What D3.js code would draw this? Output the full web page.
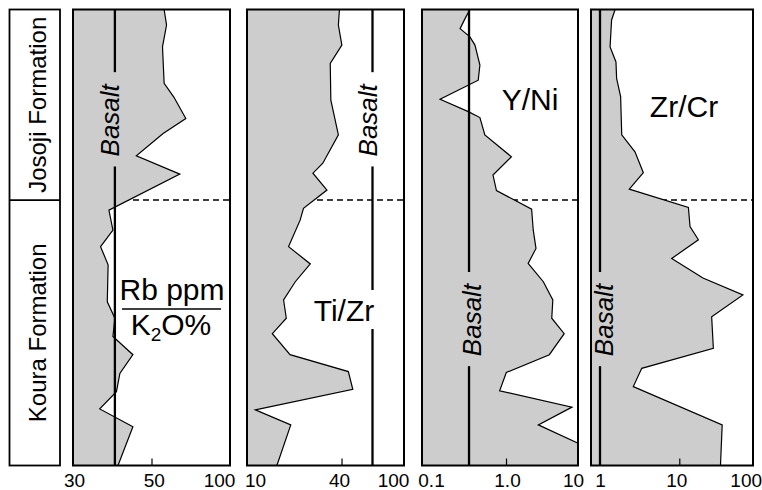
<!DOCTYPE html>
<html lang="en">
<head>
<meta charset="utf-8">
<title>Josoji and Koura Formation geochemistry</title>
<script src="https://d3js.org/d3.v7.min.js"></script>
<style>
  body { margin: 0; background: #fff; }
  text { font-family: "Liberation Sans", Arial, Helvetica, sans-serif; }
</style>
</head>
<body>
<div id="chart"></div>
<script>
var width = 762, height = 490;

// position of each sample in the section, 0 = top, 100 = base
var rbDepth = [0, 3.4, 8.2, 16.2, 19.2, 23.9, 27.2, 32.1, 36.1, 44.0, 48.4, 52.0, 56.0, 64.1, 67.7, 71.7, 75.7, 79.8, 83.8, 87.6, 91.5, 100];
var rbValue = [55.9, 57.1, 55.1, 55.9, 60.9, 67.7, 55.4, 45.3, 64.2, 37.9, 38.9, 35.9, 37.7, 37.5, 39.4, 38.9, 44.3, 40.7, 39.8, 35.7, 44.3, 40.2];

var tiDepth = [0, 3.4, 7.8, 11.8, 19.9, 27.5, 33.7, 35.9, 39.6, 43.6, 46.2, 52.0, 55.8, 59.7, 63.7, 67.7, 71.1, 75.7, 79.4, 83.3, 87.8, 91.1, 100];
var tiValue = [38.8, 38.2, 40.2, 33.9, 34.2, 38.2, 30.4, 26.3, 32.3, 22.9, 21.8, 18.4, 25.3, 20.3, 17.1, 17.8, 14.5, 18.8, 44.2, 47.2, 11.3, 19.0, 15.5];

var yDepth = [0, 2.0, 4.2, 6.0, 7.8, 12.2, 15.5, 19.7, 22.4, 23.7, 27.5, 32.3, 36.3, 39.7, 43.8, 48.4, 52.4, 55.7, 59.7, 63.7, 67.7, 71.1, 75.7, 79.6, 83.6, 87.2, 91.1, 95.0, 100];
var yValue = [0.372, 0.325, 0.284, 0.372, 0.427, 0.489, 0.467, 0.164, 0.356, 0.489, 0.560, 1.19, 0.70, 0.77, 2.27, 2.39, 2.61, 2.03, 3.30, 4.47, 4.32, 6.43, 4.0, 1.01, 0.84, 8.24, 2.81, 9.68, 20];

var zrDepth = [0, 2.3, 8.2, 11.5, 15.1, 19.1, 27.5, 31.2, 35.8, 39.4, 43.4, 47.6, 50.5, 54.6, 58.9, 62.6, 67.4, 74.3, 78.7, 82.7, 91.1, 100];
var zrValue = [1.55, 1.40, 1.34, 1.59, 1.62, 1.82, 1.88, 2.76, 3.52, 2.34, 13.3, 14.0, 18.2, 8.02, 21.0, 73.5, 27.6, 29.1, 3.36, 2.63, 38.4, 36.4];

// basalt reference values
var basaltValues = [39.4, 63, 0.363, 1];

// tick values and labels
var rbTicks = [30, 50, 100],  rbTickLabels = ['30', '50', '100'];
var tiTicks = [10, 40, 100],  tiTickLabels = ['10', '40', '100'];
var yTicks  = [0.1, 1, 10],   yTickLabels  = ['0.1', '1.0', '10'];
var zrTicks = [1, 10, 100],   zrTickLabels = ['1', '10', '100'];

var formations = ['Josoji Formation', 'Koura Formation'];
var boundaryDepth = 41.8;

var yTop = 9.5, yBottom = 465.5;

var svg = d3.select('#chart').append('svg')
  .attr('width', width)
  .attr('height', height);

var y = d3.scaleLinear().domain([0, 100]).range([yTop, yBottom]);

// panel layout
var panels = [
  { id: 'rb', x0: 73, x1: 230, domain: rbTicks, range: [73, 151.5, 230],
    depth: rbDepth, value: rbValue, ticks: rbTicks, labels: rbTickLabels, shift: [1, 2.3, -11],
    basalt: basaltValues[0], basaltDepth: 24.3, basaltDx: 4.3 },
  { id: 'ti', x0: 247, x1: 404, domain: [10, 100], range: [247, 404],
    depth: tiDepth, value: tiValue, ticks: tiTicks, labels: tiTickLabels, shift: [8, -2.5, -11],
    basalt: basaltValues[1], basaltDepth: 24.3, basaltDx: 4.6,
    title: 'Ti/Zr', tx: 344, ty: 321 },
  { id: 'yni', x0: 422, x1: 578, domain: yTicks, range: [422, 506, 578],
    depth: yDepth, value: yValue, ticks: yTicks, labels: yTickLabels, shift: [9, 1, -5],
    basalt: basaltValues[2], basaltDepth: 68.1, basaltDx: 12,
    title: 'Y/Ni', tx: 530, ty: 110 },
  { id: 'zr', x0: 591, x1: 753, domain: zrTicks, range: [600, 679.3, 752.7],
    depth: zrDepth, value: zrValue, ticks: zrTicks, labels: zrTickLabels, shift: [0, -3, -7],
    basalt: basaltValues[3], basaltDepth: 68.1, basaltDx: 13,
    title: 'Zr/Cr', tx: 684, ty: 117 }
];

// formation column on the left
var col = svg.append('g');
col.append('rect')
  .attr('x', 9.5).attr('y', yTop)
  .attr('width', 50.5).attr('height', yBottom - yTop)
  .attr('fill', 'none').attr('stroke', '#000').attr('stroke-width', 1.8);
col.append('line')
  .attr('x1', 9.5).attr('x2', 60)
  .attr('y1', y(boundaryDepth)).attr('y2', y(boundaryDepth))
  .attr('stroke', '#000').attr('stroke-width', 1.8);
col.selectAll('.fm')
  .data(formations)
  .enter().append('text')
  .attr('class', 'fm')
  .attr('transform', function(d, i) {
    var mid = i === 0 ? (0 + boundaryDepth) / 2 : (boundaryDepth + 100) / 2;
    return 'translate(46,' + y(mid) + ') rotate(-90)';
  })
  .attr('text-anchor', 'middle')
  .attr('font-size', 24)
  .text(function(d) { return d; });

panels.forEach(function(p) {
  var x = d3.scaleLog().domain(p.domain).range(p.range);
  var pts = p.depth.map(function(d, i) { return { d: d, v: p.value[i] }; });
  var g = svg.append('g');

  g.append('clipPath').attr('id', 'clip-' + p.id)
    .append('rect')
    .attr('x', p.x0).attr('y', yTop)
    .attr('width', p.x1 - p.x0).attr('height', yBottom - yTop);

  // formation boundary, hidden under the shaded area
  g.append('line')
    .attr('x1', p.x0).attr('x2', p.x1)
    .attr('y1', y(boundaryDepth)).attr('y2', y(boundaryDepth))
    .attr('stroke', '#000').attr('stroke-width', 1.5)
    .attr('stroke-dasharray', '6,4');

  var area = d3.area()
    .x0(p.x0)
    .x1(function(d) { return x(d.v); })
    .y(function(d) { return y(d.d); });

  var line = d3.line()
    .x(function(d) { return x(d.v); })
    .y(function(d) { return y(d.d); });

  g.append('path').datum(pts)
    .attr('d', area)
    .attr('fill', '#cdcdcd')
    .attr('clip-path', 'url(#clip-' + p.id + ')');

  g.append('path').datum(pts)
    .attr('d', line)
    .attr('fill', 'none')
    .attr('stroke', '#000').attr('stroke-width', 1.2)
    .attr('clip-path', 'url(#clip-' + p.id + ')');

  // basalt label
  var bx = x(p.basalt);
  var by = y(p.basaltDepth);
  var lab = g.append('text')
    .attr('transform', 'translate(' + (bx + p.basaltDx) + ',' + by + ') rotate(-90)')
    .attr('text-anchor', 'middle')
    .attr('font-size', 26)
    .attr('font-style', 'italic')
    .text('Basalt');
  var len = lab.node().getComputedTextLength();
  var gaps = [[by - len / 2 - 12, by + len / 2 + 10]];

  // title
  if (p.title) {
    var t = g.append('text')
      .attr('x', p.tx).attr('y', p.ty)
      .attr('text-anchor', 'middle')
      .attr('font-size', 30)
      .text(p.title);
    var bb = t.node().getBBox();
    if (bb.x < bx && bb.x + bb.width > bx) {
      gaps.push([bb.y - 4, bb.y + bb.height + 2]);
    }
  }

  // basalt line broken around the labels
  gaps.sort(function(a, b) { return a[0] - b[0]; });
  var segs = [], start = yTop;
  gaps.forEach(function(gp) { segs.push([start, gp[0]]); start = gp[1]; });
  segs.push([start, yBottom]);
  g.selectAll('.basalt')
    .data(segs)
    .enter().append('line')
    .attr('class', 'basalt')
    .attr('x1', bx).attr('x2', bx)
    .attr('y1', function(d) { return d[0]; })
    .attr('y2', function(d) { return d[1]; })
    .attr('stroke', '#000').attr('stroke-width', 2.3);

  // frame
  g.append('rect')
    .attr('x', p.x0).attr('y', yTop)
    .attr('width', p.x1 - p.x0).attr('height', yBottom - yTop)
    .attr('fill', 'none').attr('stroke', '#000').attr('stroke-width', 2);

  // axis
  var ax = g.append('g')
    .attr('transform', 'translate(0,' + yBottom + ')')
    .call(d3.axisBottom(x)
      .tickValues(p.ticks)
      .tickSize(-7)
      .tickPadding(8)
      .tickFormat(function(d, i) { return p.labels[i]; }));
  ax.select('.domain').remove();
  ax.attr('font-family', null).attr('font-size', null);
  ax.selectAll('.tick line')
    .attr('stroke-width', 1.2)
    .attr('display', function(d, i) { return i === 0 || i === p.ticks.length - 1 ? 'none' : null; });
  ax.selectAll('.tick text')
    .attr('font-size', 19)
    .attr('fill', '#000')
    .attr('dx', function(d, i) { return p.shift[i]; });
});

// Rb ppm / K2O% label in the first panel
var frac = svg.append('g');
frac.append('text')
  .attr('x', 172).attr('y', 300)
  .attr('text-anchor', 'middle')
  .attr('font-size', 30)
  .text('Rb ppm');
frac.append('line')
  .attr('x1', 122).attr('x2', 221)
  .attr('y1', 309).attr('y2', 309)
  .attr('stroke', '#000').attr('stroke-width', 1.5);
var k2o = frac.append('text')
  .attr('x', 171).attr('y', 335)
  .attr('text-anchor', 'middle')
  .attr('font-size', 30);
k2o.append('tspan').text('K');
k2o.append('tspan').attr('font-size', 19).attr('dy', 6).text('2');
k2o.append('tspan').attr('dy', -6).text('O%');
</script>
</body>
</html>
